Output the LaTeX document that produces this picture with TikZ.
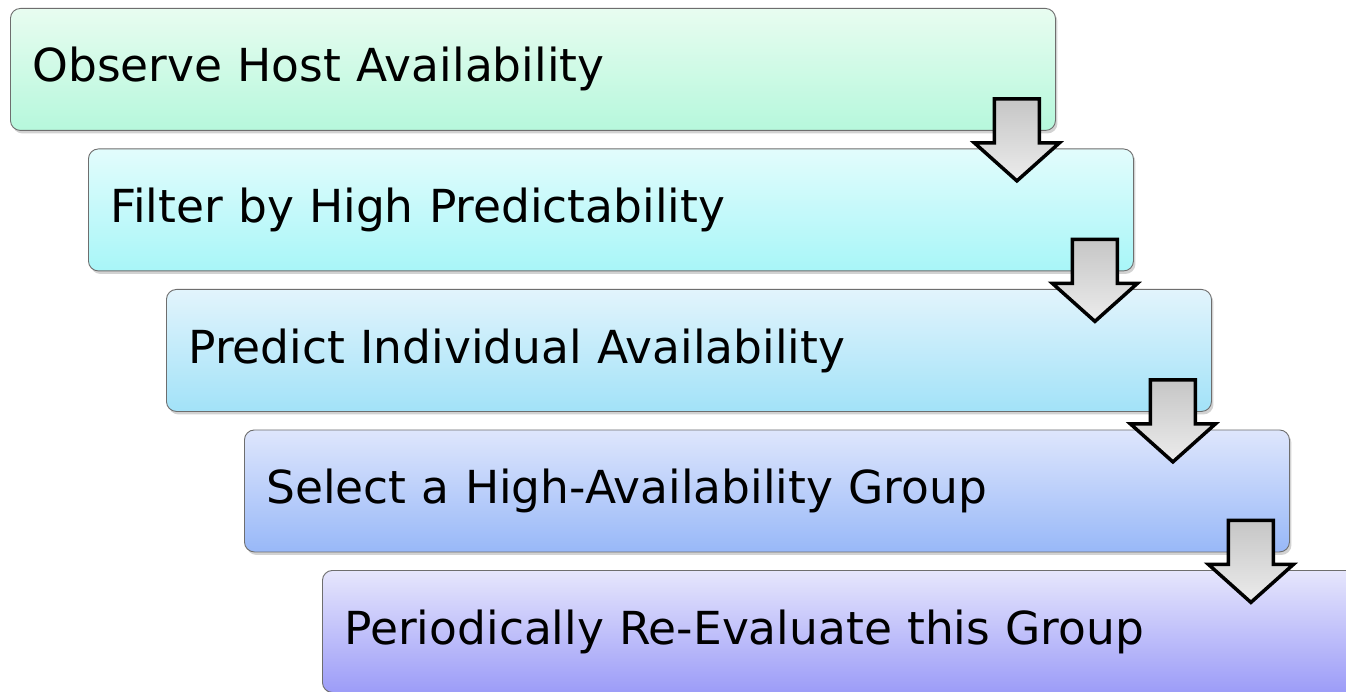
\documentclass[tikz,border=0pt]{standalone}
\usepackage{fontspec}
\setmainfont{DejaVu Sans}
\usetikzlibrary{shadows,calc}
\definecolor{cAt}{HTML}{E8FCF0}\definecolor{cAb}{HTML}{B6F8DC}
\definecolor{cBt}{HTML}{E2FCFC}\definecolor{cBb}{HTML}{A8F6F8}
\definecolor{cCt}{HTML}{E2F4FC}\definecolor{cCb}{HTML}{A2E2F8}
\definecolor{cDt}{HTML}{DEE6FC}\definecolor{cDb}{HTML}{98B8F8}
\definecolor{cEt}{HTML}{E6E6FC}\definecolor{cEb}{HTML}{9C9CF8}
\definecolor{boxline}{HTML}{6E6E6E}
\newcommand{\steptext}[1]{\raisebox{-3.5pt}{#1}}
\begin{document}
\begin{tikzpicture}[x=1pt,y=-1pt,
  stepbox/.style={draw=boxline, line width=0.9pt, rounded corners=10pt,
    minimum width=1045pt, minimum height=122pt, anchor=north west,
    text width=1001pt, align=left, inner xsep=21pt, inner ysep=0pt,
    font=\fontsize{45.5}{54}\selectfont,
    drop shadow={opacity=0.35, shadow xshift=2pt, shadow yshift=-3pt}},
  downarrow/.style={draw=black, line width=3.5pt, line join=miter,
    top color=gray!45, bottom color=gray!15}]
\useasboundingbox (0,0) rectangle (1346,692);
\clip (0,0) rectangle (1346,692);
\fill[white] (0,0) rectangle (1346,692);
\node[stepbox, top color=cAt, bottom color=cAb] (b1) at (10,8) {\steptext{Observe Host Availability}};
\node[stepbox, top color=cBt, bottom color=cBb] (b2) at (88,148.5) {\steptext{Filter by High Predictability}};
\node[stepbox, top color=cCt, bottom color=cCb] (b3) at (166,289) {\steptext{Predict Individual Availability}};
\node[stepbox, top color=cDt, bottom color=cDb] (b4) at (244,429.5) {\steptext{Select a High-Availability Group}};
\node[stepbox, top color=cEt, bottom color=cEb] (b5) at (322,570) {\steptext{Periodically Re-Evaluate this Group}};
\foreach \i in {1,...,4}{
  \coordinate (a\i) at ($(b\i.south east)+(-39,-32)$);
  \draw[downarrow] (a\i) ++(-22.5,0) -- ++(45,0) -- ++(0,44) -- ++(20,0)
    -- ++(-42.5,38) -- ++(-42.5,-38) -- ++(20,0) -- cycle;
}
\end{tikzpicture}
\end{document}
